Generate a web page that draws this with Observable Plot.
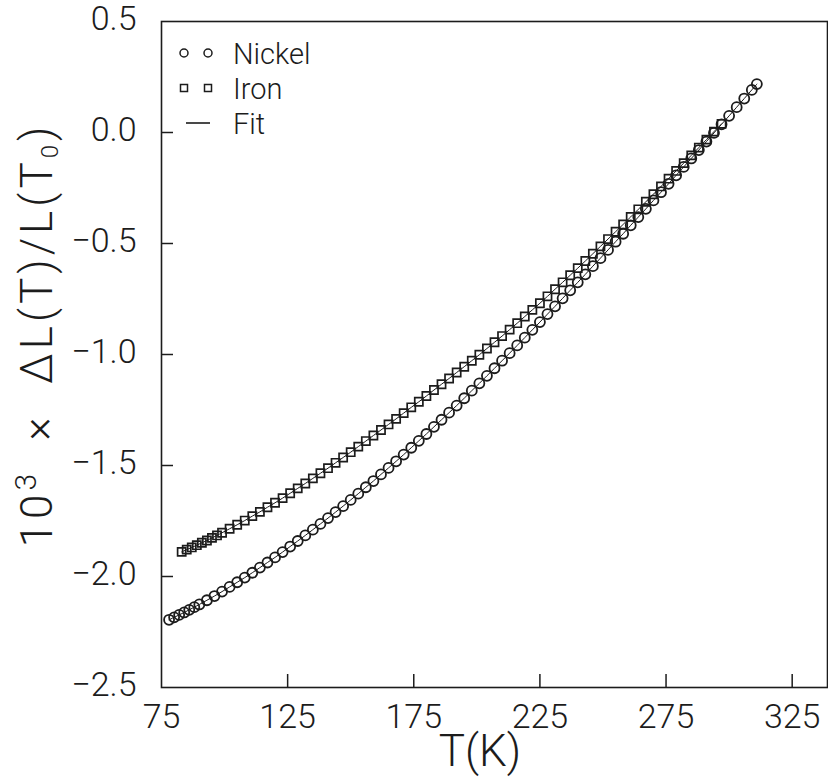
<!DOCTYPE html>
<html><head><meta charset="utf-8">
<script src="https://cdn.jsdelivr.net/npm/d3@7"></script>
<script src="https://cdn.jsdelivr.net/npm/@observablehq/plot@0.6"></script>
<style>
html,body{margin:0;padding:0;background:#fff;}
#chart{width:828px;height:777px;position:relative;}
</style></head><body><div id="chart"></div>
<script>
// Temperature (K) and 10^3 x ΔL(T)/L(T0)
const nickelT = [78,80,82,84,86,88,90,93,96,99,102,105,108,111,114,117,120,123,126,129,132,135,138,141,144,147,150,153,156,159,162,165,168,171,174,177,180,183,186,189,192,195,198,201,204,207,210,213,216,219,222,225,228,231,234,237,240,243,246,249,252,255,258,261,264,267,270,273,276,279,282,285,288,291,294,297,300,303,306,309,311];
const nickelDL = [-2.195,-2.184,-2.173,-2.162,-2.150,-2.138,-2.126,-2.107,-2.088,-2.068,-2.047,-2.026,-2.005,-1.983,-1.960,-1.937,-1.914,-1.890,-1.865,-1.840,-1.815,-1.789,-1.763,-1.737,-1.710,-1.683,-1.655,-1.627,-1.598,-1.570,-1.540,-1.511,-1.481,-1.451,-1.420,-1.389,-1.358,-1.326,-1.294,-1.262,-1.230,-1.197,-1.163,-1.130,-1.096,-1.062,-1.028,-0.994,-0.959,-0.924,-0.889,-0.854,-0.818,-0.783,-0.747,-0.711,-0.675,-0.639,-0.602,-0.566,-0.529,-0.492,-0.456,-0.418,-0.381,-0.344,-0.306,-0.269,-0.231,-0.193,-0.155,-0.117,-0.079,-0.041,-0.002,0.037,0.075,0.114,0.153,0.192,0.218];
const ironT = [83,85,87,89,91,93,95,97,99,102,105,108,111,114,117,120,123,126,129,132,135,138,141,144,147,150,153,156,159,162,165,168,171,174,177,180,183,186,189,192,195,198,201,204,207,210,213,216,219,222,225,228,231,234,237,240,243,246,249,252,255,258,261,264,267,270,273,276,279,282,285,288,291,294,297];
const ironDL = [-1.889,-1.879,-1.869,-1.859,-1.848,-1.838,-1.826,-1.815,-1.803,-1.785,-1.767,-1.748,-1.728,-1.709,-1.688,-1.668,-1.647,-1.625,-1.603,-1.581,-1.558,-1.535,-1.512,-1.488,-1.464,-1.440,-1.415,-1.390,-1.365,-1.340,-1.315,-1.290,-1.264,-1.238,-1.213,-1.187,-1.160,-1.134,-1.108,-1.081,-1.055,-1.028,-1.001,-0.973,-0.945,-0.917,-0.888,-0.859,-0.829,-0.799,-0.769,-0.738,-0.706,-0.675,-0.643,-0.611,-0.579,-0.546,-0.513,-0.480,-0.447,-0.414,-0.380,-0.346,-0.312,-0.278,-0.243,-0.208,-0.173,-0.138,-0.103,-0.068,-0.032,0.004,0.039];
const xTicks = [75,125,175,225,275,325];
const yTicks = [-2.5,-2.0,-1.5,-1.0,-0.5,0.0,0.5];
const legendLabels = ["Nickel","Iron","Fit"];
const xLabel = "T(K)";

const nickel = nickelT.map((t,i)=>({T:t, v:nickelDL[i]}));
const iron = ironT.map((t,i)=>({T:t, v:ironDL[i]}));

const W=828, H=777, mL=161, mR=1, mT=21, mB=90;
const font = "Roboto, 'Liberation Sans', Arial, sans-serif";
const ink = "#1c1c1c";
const innerW = W-mL-mR, innerH = H-mT-mB;

const plot = Plot.plot({
  width:W, height:H, marginLeft:mL, marginRight:mR, marginTop:mT, marginBottom:mB,
  style:{fontFamily:font, fontSize:"34px", fontWeight:300, color:ink, background:"#fff", overflow:"visible"},
  x:{domain:[75,339]},
  y:{domain:[-2.5,0.5]},
  marks:[
    Plot.frame({stroke:ink, strokeWidth:1.6}),
    Plot.axisX(xTicks,{tickSize:0, tickPadding:16, tickFormat:d=>String(d), label:null, fontSize:34}),
    Plot.axisY(yTicks,{tickSize:0, tickPadding:25, tickFormat:d3.format(".1f"), label:null, fontSize:34, dy:-2}),
    Plot.tickX(xTicks.slice(1), {x:d=>d, stroke:ink, strokeWidth:1.5, insetTop:innerH-13}),
    Plot.tickY(yTicks.slice(1,-1), {y:d=>d, stroke:ink, strokeWidth:1.5, insetRight:innerW-12}),
    Plot.line(nickel,{x:"T", y:"v", stroke:ink, strokeWidth:1, curve:"catmull-rom"}),
    Plot.line(iron,{x:"T", y:"v", stroke:ink, strokeWidth:1, curve:"catmull-rom"}),
    Plot.dot(nickel,{x:"T", y:"v", r:5, symbol:"circle", stroke:ink, strokeWidth:1.8, fill:"none"}),
    Plot.dot(iron,{x:"T", y:"v", r:4.6, symbol:"square", stroke:ink, strokeWidth:1.7, fill:"none"})
  ]
});

const svg = d3.select(plot);
const g = svg.append("g").attr("font-family", font).attr("font-weight", 300).attr("fill", ink).attr("text-anchor","start");
// legend
const lx1 = 184, lx2 = 208, tx = 233, rows = [53, 88, 123];
[lx1, lx2].forEach(x=>{
  g.append("circle").attr("cx",x).attr("cy",rows[0]).attr("r",4).attr("fill","none").attr("stroke",ink).attr("stroke-width",1.5);
  g.append("rect").attr("x",x-3.5).attr("y",rows[1]-3.5).attr("width",7).attr("height",7).attr("fill","none").attr("stroke",ink).attr("stroke-width",1.5);
});
g.append("line").attr("x1",186).attr("x2",210).attr("y1",rows[2]).attr("y2",rows[2]).attr("stroke",ink).attr("stroke-width",1.6);
legendLabels.forEach((s,i)=>{
  g.append("text").attr("x",tx).attr("y",rows[i]+11).attr("font-size",29).attr("text-anchor","start").text(s);
});
// x label
g.append("text").attr("x",480).attr("y",766).attr("text-anchor","middle").attr("font-size",44).text(xLabel);
// y label
const yl = g.append("text").attr("transform","translate(52,335) rotate(-90)").attr("text-anchor","middle").attr("font-size",44).attr("letter-spacing",4);
yl.append("tspan").text("10");
yl.append("tspan").attr("dy",-16).attr("font-size",30).text("3");
yl.append("tspan").attr("dy",16).text("  \u00d7  \u0394L(T)/L(T");
yl.append("tspan").attr("dy",6).attr("font-size",24).text("0");
yl.append("tspan").attr("dy",-6).text(")");

document.getElementById("chart").appendChild(plot);
</script></body></html>
